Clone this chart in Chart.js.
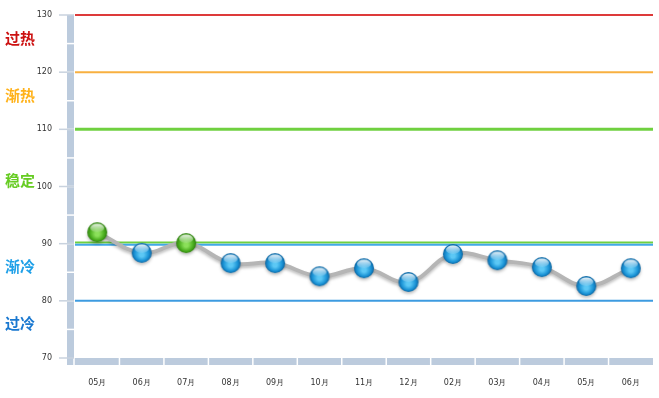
<!DOCTYPE html>
<html>
<head>
<meta charset="utf-8">
<script src="https://cdn.jsdelivr.net/npm/chart.js@4.4.1/dist/chart.umd.min.js"></script>
<style>
  html, body { margin: 0; padding: 0; background: #fff; }
  #wrap { width: 659px; height: 398px; position: relative; }
</style>
</head>
<body>
<div id="wrap"><canvas id="tempChart"></canvas></div>
<script>
// ---- data ----
const months = ['05月', '06月', '07月', '08月', '09月', '10月', '11月', '12月', '02月', '03月', '04月', '05月', '06月'];
const indexValues = [92.0, 88.4, 90.1, 86.6, 86.6, 84.3, 85.7, 83.3, 88.2, 87.1, 85.9, 82.6, 85.7];

// limit lines
const limitValues = [130, 120, 110, 90, 90, 80];
const limitColors = ['#dd3a3a', '#f8b040', '#6fd040', '#6fd040', '#41a8e8', '#3d9be0'];

// zone labels on the left
const zoneLabels = ['过热', '渐热', '稳定', '渐冷', '过冷'];
const zoneLabelValues = [126, 116, 101, 86, 76];
const zoneColors = ['#cc1111', '#ffb21a', '#66cc22', '#1fa0e8', '#1a78d0'];

const yTicks = [70, 80, 90, 100, 110, 120, 130];

// -----------------------------
// Boules (points) en dégradé
// -----------------------------
function makeBall(light, mid, dark) {
    const c = document.createElement('canvas');
    c.width = 22; c.height = 22;
    const ctx = c.getContext('2d');
    const g = ctx.createRadialGradient(11, 13, 2, 11, 11, 10.5);
    g.addColorStop(0, light);
    g.addColorStop(0.6, mid);
    g.addColorStop(1, dark);
    ctx.beginPath();
    ctx.arc(11, 11, 10, 0, Math.PI * 2);
    ctx.fillStyle = g;
    ctx.fill();
    // reflet
    const h = ctx.createLinearGradient(0, 2, 0, 11);
    h.addColorStop(0, 'rgba(255,255,255,0.95)');
    h.addColorStop(1, 'rgba(255,255,255,0.1)');
    ctx.beginPath();
    ctx.ellipse(11, 6.8, 7, 4.3, 0, 0, Math.PI * 2);
    ctx.fillStyle = h;
    ctx.fill();
    return c;
}
const blueBall = makeBall('#5cc8f5', '#1a93d6', '#0b5f9a');
const greenBall = makeBall('#8be05a', '#4aad1e', '#2a7a0c');

// -----------------------------
// Plugin : axes, lignes limites, libellés
// -----------------------------
const decorPlugin = {
    id: 'decor',
    beforeDatasetsDraw(chart) {
        const ctx = chart.ctx;
        const area = chart.chartArea;
        const y = chart.scales.y;
        const x = chart.scales.x;
        ctx.save();

        // barre gauche
        const barL = area.left - 8, barW = 7;
        ctx.fillStyle = '#bccbdd';
        ctx.fillRect(barL, area.top, barW, area.bottom - area.top + 7);
        // barre du bas
        ctx.fillRect(barL, area.bottom, area.right - barL, 7);

        // séparateurs blancs
        ctx.strokeStyle = '#ffffff';
        ctx.lineWidth = 1.5;
        for (let v = 75; v < 130; v += 5) {
            const py = y.getPixelForValue(v);
            ctx.beginPath();
            ctx.moveTo(barL, py);
            ctx.lineTo(barL + barW, py);
            ctx.stroke();
        }
        ctx.beginPath();
        ctx.moveTo(area.left - 1, area.bottom);
        ctx.lineTo(area.left - 1, area.bottom + 7);
        ctx.stroke();
        const step = (area.right - area.left) / months.length;
        for (let i = 1; i < months.length; i++) {
            const px = x.getPixelForValue(i) - step / 2;
            ctx.beginPath();
            ctx.moveTo(px, area.bottom);
            ctx.lineTo(px, area.bottom + 7);
            ctx.stroke();
        }

        // petites graduations
        ctx.strokeStyle = '#c8d2de';
        ctx.lineWidth = 1.5;
        yTicks.forEach(v => {
            const py = y.getPixelForValue(v);
            ctx.beginPath();
            ctx.moveTo(barL - 8, py);
            ctx.lineTo(barL + barW, py);
            ctx.stroke();
        });

        // lignes limites
        limitValues.forEach((v, i) => {
            let py = y.getPixelForValue(v);
            if (i === 3) py -= 1.2;
            if (i === 4) py += 1.2;
            ctx.strokeStyle = limitColors[i];
            ctx.lineWidth = (i === 2) ? 3 : 2;
            ctx.beginPath();
            ctx.moveTo(area.left, py);
            ctx.lineTo(area.right, py);
            ctx.stroke();
        });

        // libellés des zones
        ctx.font = 'bold 15px "Noto Sans CJK SC"';
        ctx.textBaseline = 'middle';
        ctx.textAlign = 'left';
        zoneLabels.forEach((t, i) => {
            ctx.fillStyle = zoneColors[i];
            ctx.fillText(t, 5, y.getPixelForValue(zoneLabelValues[i]));
        });
        ctx.restore();
    },
    beforeDatasetDraw(chart) {
        chart.ctx.save();
        chart.ctx.shadowColor = 'rgba(0,0,0,0.25)';
        chart.ctx.shadowBlur = 3;
        chart.ctx.shadowOffsetY = 2;
    },
    afterDatasetDraw(chart) {
        chart.ctx.restore();
    }
};

const canvas = document.getElementById('tempChart');
new Chart(canvas.getContext('2d'), {
    type: 'line',
    data: {
        labels: months,
        datasets: [{
            data: indexValues,
            borderColor: '#b5b5b5',
            borderWidth: 4,
            tension: 0.4,
            clip: false,
            pointStyle: ctx => (ctx.raw >= 90 ? greenBall : blueBall),
            pointRadius: 10,
            pointHoverRadius: 10
        }]
    },
    options: {
        responsive: true,
        maintainAspectRatio: false,
        animation: false,
        layout: { autoPadding: false, padding: { top: 15, right: 6, left: 0, bottom: 0 } },
        plugins: { legend: { display: false }, tooltip: { enabled: false } },
        scales: {
            x: {
                offset: true,
                grid: { display: false, drawTicks: false },
                border: { display: false },
                ticks: { color: '#333', font: { size: 8, family: 'DejaVu Sans' }, padding: 20, autoSkip: false, maxRotation: 0 },
                afterFit: s => { s.height = 40; s.paddingLeft = 0; s.paddingRight = 0; }
            },
            y: {
                min: 70,
                max: 130,
                grid: { display: false, drawTicks: false },
                border: { display: false },
                ticks: { stepSize: 10, color: '#333', font: { size: 8, family: 'DejaVu Sans' }, padding: 23 },
                afterFit: s => { s.width = 75; s.paddingTop = 0; s.paddingBottom = 0; }
            }
        }
    },
    plugins: [decorPlugin]
});
</script>
</body>
</html>
